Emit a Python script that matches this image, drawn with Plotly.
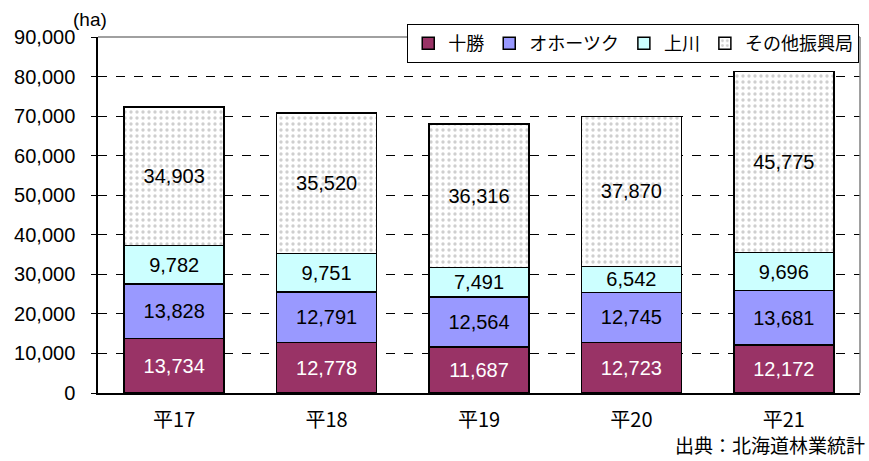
import plotly.graph_objects as go

# data (ha)
years = ['平17', '平18', '平19', '平20', '平21']
tokachi = [13734, 12778, 11687, 12723, 12172]
okhotsk = [13828, 12791, 12564, 12745, 13681]
kamikawa = [9782, 9751, 7491, 6542, 9696]
others = [34903, 35520, 36316, 37870, 45775]

jp = 'Noto Sans CJK JP'
num = 'Liberation Sans'

def bar(name, vals, color, txtcolor, pattern=None):
    marker = dict(color=color, line=dict(color='black', width=1.5))
    if pattern:
        marker['pattern'] = pattern
    return go.Bar(x=years, y=vals, name=name, marker=marker,
                  text=[f'{v:,}' for v in vals], textposition='inside',
                  insidetextanchor='middle', constraintext='none',
                  textfont=dict(color=txtcolor, size=20, family=num))

fig = go.Figure([
    bar('十勝', tokachi, '#993366', 'white'),
    bar('オホーツク', okhotsk, '#9999FF', 'black'),
    bar('上川', kamikawa, '#CCFFFF', 'black'),
    bar('その他振興局', others, 'white', 'black',
        dict(shape='.', fgcolor='#a0a0a0', bgcolor='white', size=6, solidity=0.25)),
])

fig.update_layout(
    width=869, height=461, barmode='stack', bargap=0.344,
    margin=dict(l=98, r=9, t=37, b=68, autoexpand=False),
    plot_bgcolor='white', paper_bgcolor='white',
    font=dict(family=num, size=20, color='black'),
    legend=dict(orientation='h', x=0.999, xanchor='right', y=1.0365, yanchor='top',
                traceorder='normal', bordercolor='black', borderwidth=1,
                bgcolor='white', font=dict(family=jp, size=18),
                itemwidth=30, tracegroupgap=0),
    xaxis=dict(showline=True, linecolor='black', linewidth=1.5, ticks='',
               ticklabelstandoff=8, tickfont=dict(family=jp, size=20)),
    yaxis=dict(range=[0, 90000], dtick=10000, tickformat=',', showline=True,
               linecolor='black', linewidth=1.5, ticks='outside', ticklen=5,
               tickcolor='black', showgrid=True, gridcolor='black', griddash='dash',
               gridwidth=1, ticklabelstandoff=12, tickfont=dict(size=20),
               zeroline=False),
    annotations=[
        dict(text='(ha)', x=0, y=1, xref='paper', yref='paper', xanchor='left',
             yanchor='bottom', showarrow=False, font=dict(size=19), xshift=-27, yshift=5),
        dict(text='出典：北海道林業統計', x=1, y=0, xref='paper', yref='paper',
             xanchor='right', yanchor='bottom', showarrow=False, xshift=7, yshift=-67,
             font=dict(family=jp, size=19)),
    ],
    shapes=[
        dict(type='line', xref='paper', yref='paper', x0=0, x1=1, y0=1, y1=1,
             line=dict(color='#808080', width=1.5)),
        dict(type='line', xref='paper', yref='paper', x0=1, x1=1, y0=0, y1=1,
             line=dict(color='#808080', width=1.5)),
    ],
)

# drop the default page margin so the figure sits at the window corner
fig.write_html('out.html', config={'displayModeBar': False},
               post_script="document.body.style.margin='0';")
